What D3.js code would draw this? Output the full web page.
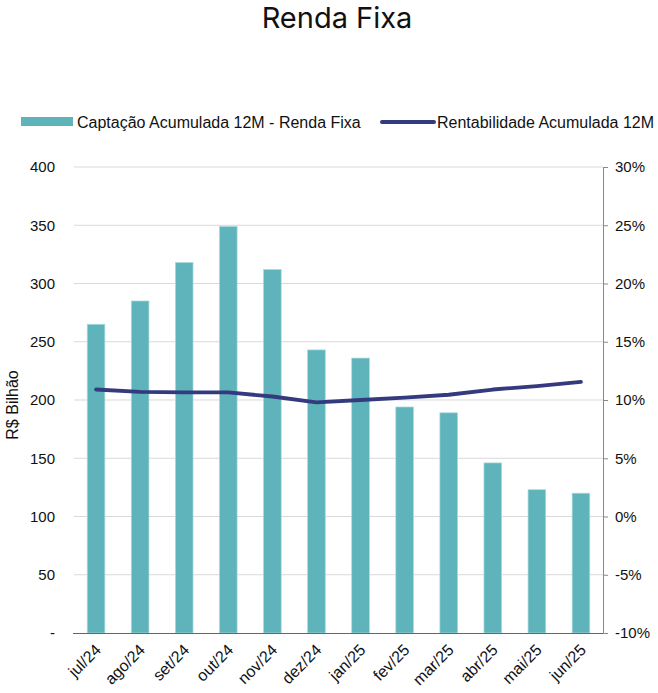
<!DOCTYPE html>
<html><head><meta charset="utf-8">
<script src="https://cdn.jsdelivr.net/npm/d3@7/dist/d3.min.js"></script>
<style>body{margin:0;background:#fff}svg{display:block}</style>
</head><body>
<svg id="c" width="658" height="693"></svg>
<script>
const categories = ["jul/24","ago/24","set/24","out/24","nov/24","dez/24","jan/25","fev/25","mar/25","abr/25","mai/25","jun/25"];
const captacao = [265, 285, 318, 349, 312, 243, 236, 194, 189, 146, 123, 120];
const rentabilidade = [10.9, 10.7, 10.65, 10.65, 10.3, 9.8, 10.0, 10.2, 10.45, 10.9, 11.2, 11.55];
const leftTicks = [0, 50, 100, 150, 200, 250, 300, 350, 400];
const rightTicks = [-10, -5, 0, 5, 10, 15, 20, 25, 30];

const svg = d3.select("#c");
const font = "'Liberation Sans', Arial, sans-serif";
const L = 74, R = 603, T = 167, B = 633;
const barColor = "#5fb4bb", lineColor = "#343a7e";

const x = d3.scaleBand().domain(categories).range([L, R]).paddingInner(0.6).paddingOuter(0.3);
const y = d3.scaleLinear().domain([0, 400]).range([B, T]);
const y2 = d3.scaleLinear().domain([-10, 30]).range([B, T]);

svg.append("text").attr("x", 337).attr("y", 28).attr("text-anchor", "middle")
  .attr("font-family", "Inter, 'Noto Sans', sans-serif").attr("font-size", 29).attr("fill", "#111")
  .text("Renda Fixa");

// gridlines
svg.append("g").selectAll("line").data(leftTicks.filter(d => d > 0)).join("line")
  .attr("x1", L).attr("x2", R).attr("y1", d => y(d)).attr("y2", d => y(d))
  .attr("stroke", "#d9d9d9").attr("stroke-width", 1);

// left axis
const gl = svg.append("g").attr("transform", `translate(${L},0)`)
  .call(d3.axisLeft(y).tickValues(leftTicks).tickSize(0).tickPadding(19).tickFormat(d => d === 0 ? "-" : d));
gl.select(".domain").remove();
gl.selectAll("text").attr("font-family", font).attr("font-size", 15).attr("fill", "#111");

// right axis
const gr = svg.append("g").attr("transform", `translate(${R},0)`)
  .call(d3.axisRight(y2).tickValues(rightTicks).tickSize(5).tickPadding(7).tickFormat(d => d + "%"));
gr.select(".domain").attr("stroke", "#888");
gr.selectAll(".tick line").attr("stroke", "#888");
gr.selectAll("text").attr("font-family", font).attr("font-size", 15).attr("fill", "#111");

// bars
svg.append("g").selectAll("rect").data(categories).join("rect")
  .attr("x", d => x(d)).attr("width", x.bandwidth())
  .attr("y", (d, i) => y(captacao[i])).attr("height", (d, i) => B - y(captacao[i]))
  .attr("fill", barColor).attr("stroke", "#a9dade").attr("stroke-width", 0.7);

// baseline
svg.append("line").attr("x1", L - 1).attr("x2", R).attr("y1", B + 0.5).attr("y2", B + 0.5)
  .attr("stroke", "#666").attr("stroke-width", 1);

// line
const line = d3.line().x((d, i) => x(categories[i]) + x.bandwidth() / 2).y(d => y2(d));
svg.append("path").datum(rentabilidade).attr("d", line)
  .attr("fill", "none").attr("stroke", lineColor).attr("stroke-width", 3.8)
  .attr("stroke-linecap", "round").attr("stroke-linejoin", "round");

// x labels
const gx = svg.append("g").attr("transform", `translate(0,${B})`)
  .call(d3.axisBottom(x).tickSize(0).tickPadding(0));
gx.select(".domain").remove();
gx.selectAll("text").attr("font-family", font).attr("font-size", 16).attr("fill", "#111")
  .attr("text-anchor", "end").attr("dy", 0)
  .attr("transform", "translate(6,18) rotate(-45)");

// y title
svg.append("text").attr("transform", "translate(18,405) rotate(-90)").attr("text-anchor", "middle")
  .attr("font-family", font).attr("font-size", 16).attr("fill", "#111").text("R$ Bilhão");

// legend
const lg = svg.append("g").attr("font-family", font).attr("font-size", 16).attr("fill", "#111");
lg.append("rect").attr("x", 21).attr("y", 117).attr("width", 52).attr("height", 9).attr("fill", barColor);
lg.append("text").attr("x", 77).attr("y", 127.5).text("Captação Acumulada 12M - Renda Fixa");
lg.append("line").attr("x1", 382).attr("x2", 434).attr("y1", 122).attr("y2", 122)
  .attr("stroke", lineColor).attr("stroke-width", 4).attr("stroke-linecap", "round");
lg.append("text").attr("x", 437).attr("y", 127.5).text("Rentabilidade Acumulada 12M");
</script>
</body></html>
